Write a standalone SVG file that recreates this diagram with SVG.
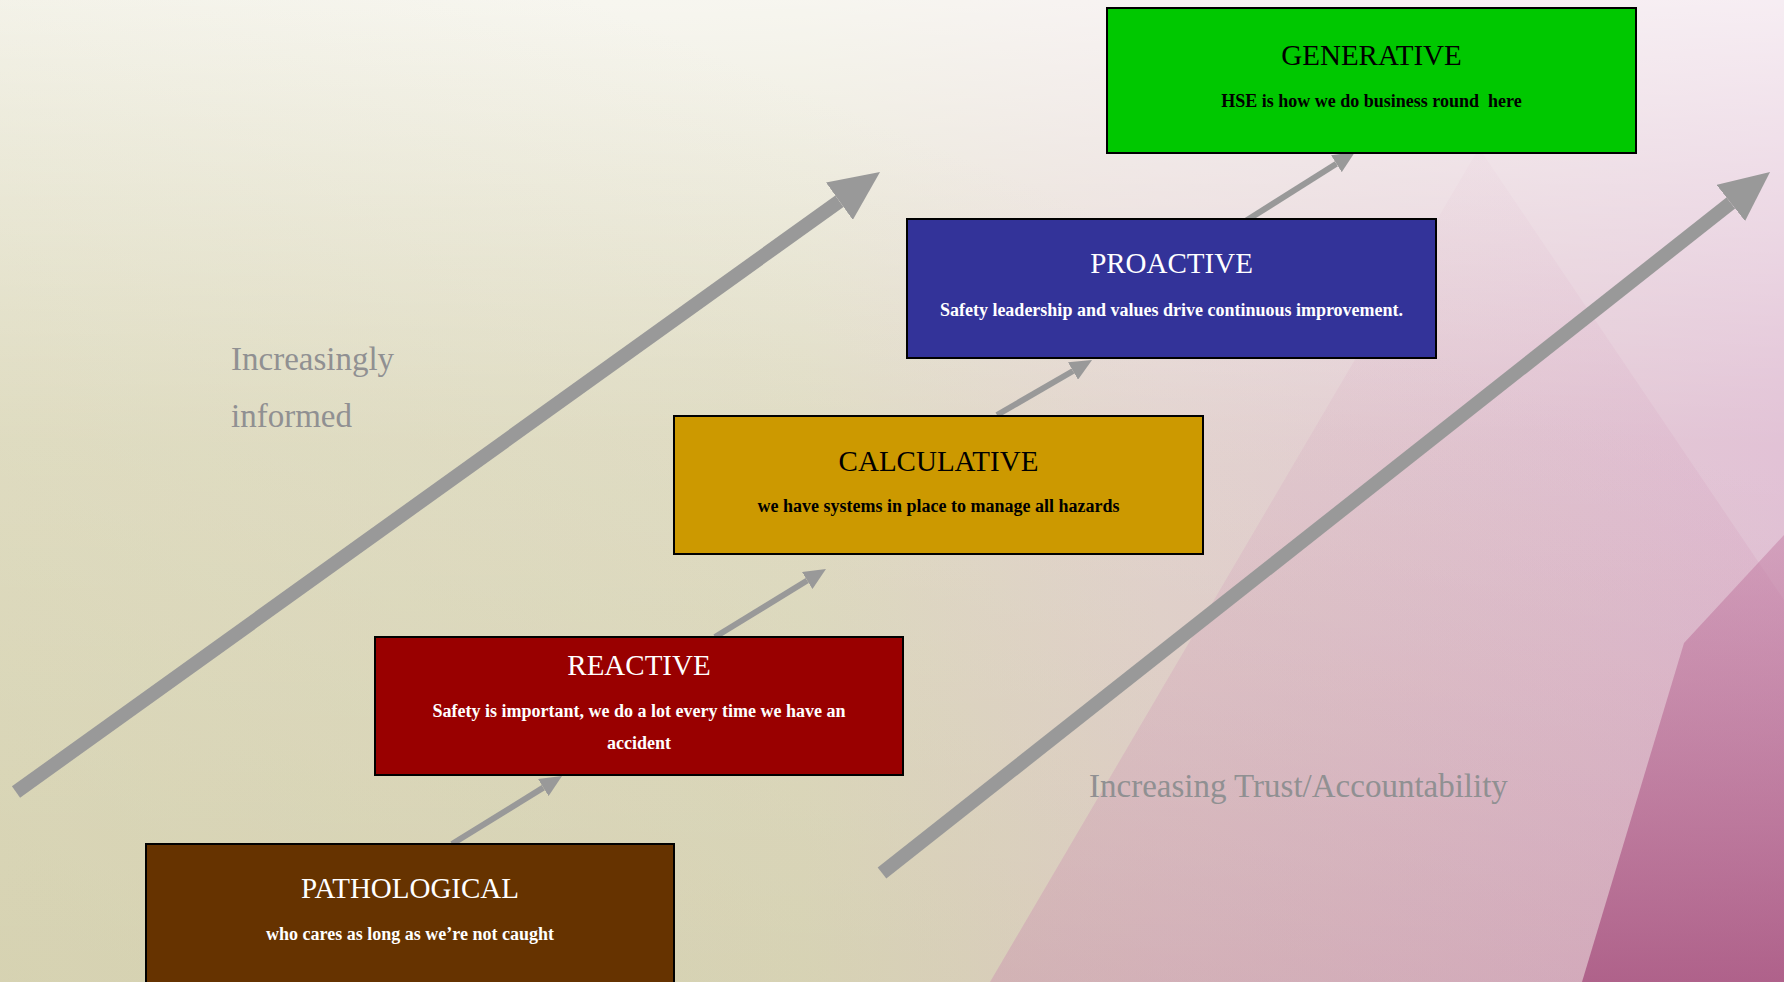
<svg xmlns="http://www.w3.org/2000/svg" width="1784" height="982" viewBox="0 0 1784 982">
<defs>
<linearGradient id="bgH" x1="0" y1="0" x2="1" y2="0">
<stop offset="0" stop-color="#E2DFC4"/>
<stop offset="0.45" stop-color="#DEDAC0"/>
<stop offset="0.65" stop-color="#E0CDCB"/>
<stop offset="1" stop-color="#DDB8CF"/>
</linearGradient>
<linearGradient id="bgV" x1="0" y1="0" x2="0" y2="1">
<stop offset="0" stop-color="#FFFFFF" stop-opacity="0.75"/>
<stop offset="0.45" stop-color="#FFFFFF" stop-opacity="0.15"/>
<stop offset="1" stop-color="#FFFFFF" stop-opacity="0"/>
</linearGradient>
<linearGradient id="bgBL" x1="0" y1="1" x2="0.6" y2="0.2">
<stop offset="0" stop-color="#C8C39C" stop-opacity="0.45"/>
<stop offset="1" stop-color="#C8C39C" stop-opacity="0"/>
</linearGradient>
<linearGradient id="tri" x1="0" y1="0" x2="0" y2="1">
<stop offset="0" stop-color="#D9A6C2" stop-opacity="0.05"/>
<stop offset="1" stop-color="#C98AAE" stop-opacity="0.4"/>
</linearGradient>
<linearGradient id="dark" x1="0" y1="0" x2="0" y2="1">
<stop offset="0" stop-color="#C47FA5" stop-opacity="0.5"/>
<stop offset="1" stop-color="#A6507E" stop-opacity="0.8"/>
</linearGradient>
<marker id="hs" viewBox="0 -10 22 20" markerWidth="22" markerHeight="20" refX="0" refY="0" orient="auto" markerUnits="userSpaceOnUse">
<path d="M0,-10 L22,0 L0,10 z" fill="#999999"/>
</marker>
<marker id="hb" viewBox="0 -23 50 46" markerWidth="50" markerHeight="46" refX="0" refY="0" orient="auto" markerUnits="userSpaceOnUse">
<path d="M0,-23 L50,0 L0,23 z" fill="#999999"/>
</marker>
</defs>
<style>
.box{stroke:#000000;stroke-width:2}
.title{font-family:"Liberation Serif","Times New Roman",serif;font-size:29px;text-anchor:middle}
.sub{font-family:"Liberation Serif","Times New Roman",serif;font-size:18px;font-weight:bold;text-anchor:middle}
.light{fill:#FFFFFF}
.dk{fill:#000000}
.side{font-family:"Liberation Serif","Times New Roman",serif;font-size:33px;fill:#909092}
.small{stroke:#999999;stroke-width:6;fill:none}
.big{stroke:#999999;stroke-width:14;fill:none}
</style>
<g id="background">
<rect x="0" y="0" width="1784" height="982" fill="url(#bgH)"/>
<rect x="0" y="0" width="1784" height="982" fill="url(#bgV)"/>
<rect x="0" y="0" width="1784" height="982" fill="url(#bgBL)"/>
<polygon points="1479,148 990,982 1784,982 1784,600" fill="url(#tri)"/>
<polygon points="1784,535 1684,643 1582,982 1784,982" fill="url(#dark)"/>
</g>
<g id="connectors">
<line class="big" x1="16" y1="792" x2="839.4" y2="201.2" marker-end="url(#hb)"/>
<line class="big" x1="882" y1="873" x2="1730.8" y2="203" marker-end="url(#hb)"/>
<line class="small" x1="452" y1="844" x2="543.3" y2="787.6" marker-end="url(#hs)"/>
<line class="small" x1="715" y1="637" x2="807.2" y2="580.5" marker-end="url(#hs)"/>
<line class="small" x1="997" y1="415" x2="1073" y2="371" marker-end="url(#hs)"/>
<line class="small" x1="1244" y1="222" x2="1336.4" y2="163.7" marker-end="url(#hs)"/>
</g>
<g id="generative">
<rect class="box" x="1107" y="8" width="529" height="145" fill="#00C800"/>
<text class="title dk" x="1371.5" y="65">GENERATIVE</text>
<text class="sub dk" x="1371.5" y="107" xml:space="preserve">HSE is how we do business round  here</text>
</g>
<g id="proactive">
<rect class="box" x="907" y="219" width="529" height="139" fill="#333399"/>
<text class="title light" x="1171.5" y="273">PROACTIVE</text>
<text class="sub light" x="1171.5" y="316">Safety leadership and values drive continuous improvement.</text>
</g>
<g id="calculative">
<rect class="box" x="674" y="416" width="529" height="138" fill="#CC9900"/>
<text class="title dk" x="938.5" y="471">CALCULATIVE</text>
<text class="sub dk" x="938.5" y="512">we have systems in place to manage all hazards</text>
</g>
<g id="reactive">
<rect class="box" x="375" y="637" width="528" height="138" fill="#990000"/>
<text class="title light" x="639" y="675">REACTIVE</text>
<text class="sub light" x="639" y="717">Safety is important, we do a lot every time we have an</text>
<text class="sub light" x="639" y="749">accident</text>
</g>
<g id="pathological">
<rect class="box" x="146" y="844" width="528" height="150" fill="#663300"/>
<text class="title light" x="410" y="898">PATHOLOGICAL</text>
<text class="sub light" x="410" y="940">who cares as long as we’re not caught</text>
</g>
<g id="labels">
<text class="side" x="231" y="370">Increasingly</text>
<text class="side" x="231" y="427">informed</text>
<text class="side" x="1089" y="797">Increasing Trust/Accountability</text>
</g>
</svg>
